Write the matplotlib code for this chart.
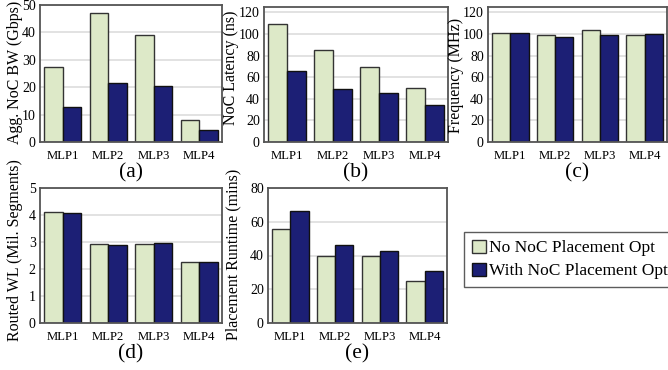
import matplotlib
matplotlib.use("Agg")
import matplotlib.pyplot as plt
import numpy as np
from matplotlib.patches import Patch

plt.rcParams['font.family'] = ['Liberation Serif', 'DejaVu Serif']

categories = ["MLP1", "MLP2", "MLP3", "MLP4"]
series_names = ["No NoC Placement Opt", "With NoC Placement Opt"]

bw_no = [27.2, 47.0, 39.0, 8.2]
bw_with = [12.7, 21.6, 20.4, 4.3]
lat_no = [109, 85.3, 69.1, 50.2]
lat_with = [65.4, 49.3, 45.3, 34.4]
freq_no = [100.8, 99.2, 103.3, 99.2]
freq_with = [101.0, 97.2, 99.2, 100.2]
wl_no = [4.11, 2.94, 2.92, 2.27]
wl_with = [4.07, 2.90, 2.95, 2.25]
rt_no = [55.8, 39.5, 39.6, 25.0]
rt_with = [66.5, 46.0, 42.8, 30.9]

green = "#dde9c8"
navy = "#1c1f75"
edge_green = "#333333"
edge_navy = "#111111"

W, H = 668, 370
fig = plt.figure(figsize=(W/100, H/100), dpi=100)

def px_axes(l, t, r, b):
    return fig.add_axes([l/W, 1 - b/H, (r-l)/W, (b-t)/H])

panels = [
    # box (l, t, r, b), no, with, ymax, yticks, ylabel, sub, label right-edge x px, label centre y px
    ((40, 5, 222, 142), bw_no, bw_with, 50, [0, 10, 20, 30, 40, 50], "Agg. NoC BW (Gbps)", "(a)", 23, 72),
    ((264, 7, 448, 142), lat_no, lat_with, 125, [0, 20, 40, 60, 80, 100, 120], "NoC Latency (ns)", "(b)", 239, 68),
    ((488, 7, 667, 142), freq_no, freq_with, 125, [0, 20, 40, 60, 80, 100, 120], "Frequency (MHz)", "(c)", 464, 75),
    ((40, 188, 222, 323), wl_no, wl_with, 5, [0, 1, 2, 3, 4, 5], "Routed WL (Mil. Segments)", "(d)", 23, 250),
    ((268, 188, 447, 323), rt_no, rt_with, 80, [0, 20, 40, 60, 80], "Placement Runtime (mins)", "(e)", 241, 254),
]

x = np.arange(len(categories))
bw = 0.41
for (box, no, wi, ymax, yt, ylab, sub, lx, ly) in panels:
    ax = px_axes(*box)
    ax.set_axisbelow(True)
    ax.bar(x - bw/2, no, bw, color=green, edgecolor=edge_green, linewidth=1.0, zorder=2)
    ax.bar(x + bw/2, wi, bw, color=navy, edgecolor=edge_navy, linewidth=1.0, zorder=2)
    ax.set_xlim(-0.5, 3.5)
    ax.set_ylim(0, ymax)
    ax.set_yticks(yt)
    ax.set_xticks(x)
    ax.set_xticklabels(categories, fontsize=9.2)
    ax.tick_params(axis='y', length=0, pad=3, labelsize=10)
    ax.tick_params(axis='x', length=0, pad=5.5)
    ax.grid(axis='y', color="#dddddd", linewidth=1.2, zorder=0)
    for s in ax.spines.values():
        s.set_color("#555555")
        s.set_linewidth(1.3)
    ax.set_ylabel(ylab, fontsize=11.5)
    l, t, r, b = box
    ax.yaxis.set_label_coords((lx - l)/(r - l), (b - ly)/(b - t))
    ax.text(0.5, -31/(b - t), sub, transform=ax.transAxes, ha='center', va='center', fontsize=15.5)

handles = [Patch(facecolor=green, edgecolor=edge_green, linewidth=1.0),
           Patch(facecolor=navy, edgecolor=edge_navy, linewidth=1.0)]
leg = fig.legend(handles, series_names, loc='upper left',
                 bbox_to_anchor=(464/W, 1 - 232/H), fontsize=12.5,
                 frameon=True, fancybox=False, handlelength=0.8, handleheight=0.8,
                 handletextpad=0.2, borderpad=0.45, labelspacing=0.35, borderaxespad=0)
leg.get_frame().set_edgecolor("#333333")
leg.get_frame().set_linewidth(1.0)

fig.savefig("out.png", dpi=100)
